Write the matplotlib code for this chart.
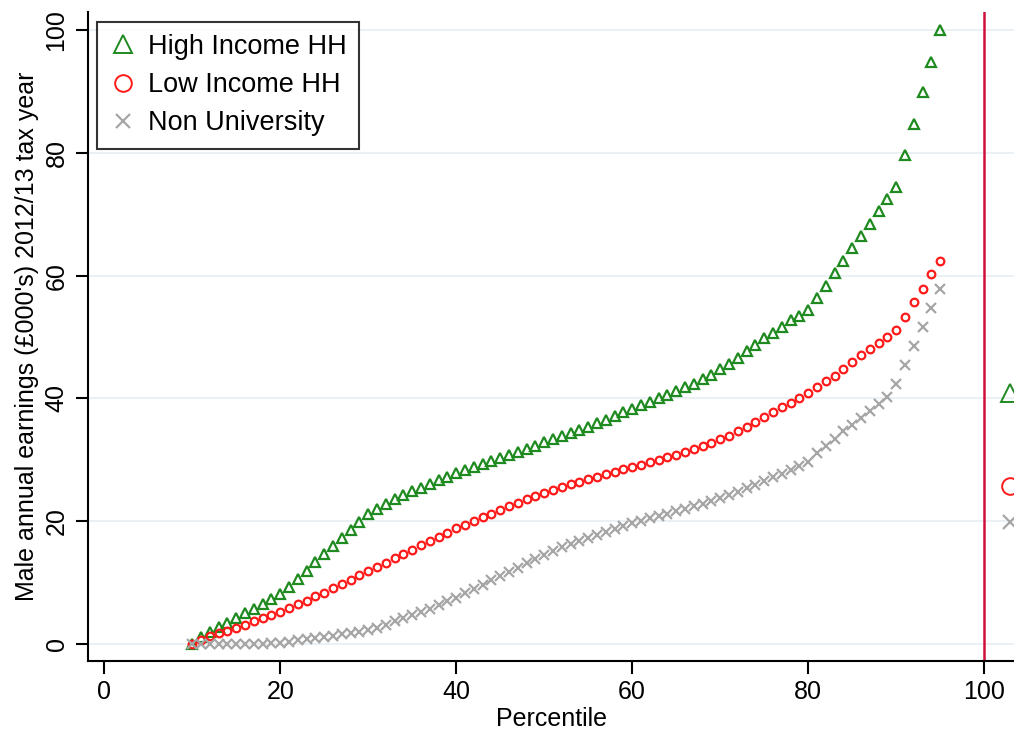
"""
Male annual earnings by percentile, by group
"""
import matplotlib
matplotlib.use("Agg")
import matplotlib.pyplot as plt
from matplotlib.lines import Line2D

plt.rcParams['font.family'] = ['Liberation Sans', 'DejaVu Sans']

# Percentiles 10..95
pct = list(range(10, 96))

high_inc = [0.0, 1.1, 1.9, 2.7, 3.3, 4.2, 4.9, 5.6, 6.4, 7.3,
            8.1, 9.3, 10.6, 11.9, 13.3, 14.6, 15.9, 17.2, 18.5, 19.9,
            21.1, 22.0, 22.8, 23.5, 24.2, 24.8, 25.4, 26.0, 26.6, 27.2,
            27.8, 28.3, 28.8, 29.3, 29.8, 30.3, 30.8, 31.3, 31.8, 32.3,
            32.8, 33.3, 33.8, 34.3, 34.8, 35.3, 35.9, 36.5, 37.1, 37.7,
            38.3, 38.9, 39.4, 40.0, 40.6, 41.2, 41.8, 42.4, 43.1, 43.8,
            44.7, 45.6, 46.6, 47.7, 48.7, 49.8, 50.6, 51.6, 52.7, 53.4,
            54.4, 56.4, 58.3, 60.4, 62.4, 64.5, 66.5, 68.5, 70.6, 72.5,
            74.5, 79.7, 84.7, 89.9, 94.9, 100.0]

low_inc = [0.0, 0.6, 1.2, 1.7, 2.1, 2.6, 3.1, 3.6, 4.1, 4.7,
           5.2, 5.8, 6.4, 7.0, 7.7, 8.3, 9.0, 9.7, 10.4, 11.1,
           11.8, 12.5, 13.2, 13.9, 14.6, 15.3, 16.0, 16.7, 17.4, 18.1,
           18.8, 19.4, 20.0, 20.6, 21.2, 21.8, 22.4, 23.0, 23.6, 24.1,
           24.6, 25.1, 25.6, 26.0, 26.4, 26.8, 27.2, 27.6, 28.0, 28.4,
           28.8, 29.2, 29.6, 30.0, 30.4, 30.8, 31.2, 31.7, 32.2, 32.7,
           33.3, 33.9, 34.6, 35.4, 36.2, 37.0, 37.7, 38.5, 39.3, 40.0,
           40.8, 41.8, 42.8, 43.7, 44.7, 45.9, 47.0, 48.0, 49.0, 50.0,
           51.1, 53.3, 55.7, 57.9, 60.2, 62.4]

non_uni = [0.0, 0.0, 0.0, 0.0, 0.0, 0.0, 0.0, 0.0, 0.0, 0.05,
           0.1, 0.3, 0.5, 0.7, 0.9, 1.1, 1.3, 1.5, 1.7, 1.9,
           2.2, 2.6, 3.1, 3.6, 4.1, 4.6, 5.1, 5.7, 6.3, 6.9,
           7.5, 8.2, 8.9, 9.6, 10.3, 11.0, 11.7, 12.4, 13.1, 13.8,
           14.5, 15.1, 15.7, 16.2, 16.7, 17.2, 17.7, 18.2, 18.7, 19.2,
           19.6, 20.0, 20.4, 20.8, 21.2, 21.6, 22.0, 22.4, 22.8, 23.2,
           23.7, 24.2, 24.7, 25.3, 25.9, 26.5, 27.1, 27.7, 28.3, 28.9,
           29.6, 31.0, 32.2, 33.4, 34.6, 35.7, 36.8, 37.9, 39.0, 40.2,
           42.4, 45.5, 48.6, 51.7, 54.8, 57.8]

# group means, shown beside the reference line
mean_x = 103
mean_high = 40.9
mean_low = 25.7
mean_nonuni = 19.8

labels = ['High Income HH', 'Low Income HH', 'Non University']

green = '#1f8a1f'
red = '#ff1a1a'
grey = '#a6a6a6'

fig = plt.figure(figsize=(10.14, 7.30), dpi=100)
ax = fig.add_axes([0.0868, 0.0945, 0.9132, 0.889])

for v in [0, 20, 40, 60, 80, 100]:
    ax.axhline(v, color='#e8eff2', lw=1.3, zorder=0)

ax.plot(pct, high_inc, ls='none', marker='^', ms=6.5, mfc='none',
        mec=green, mew=1.6)
ax.plot(pct, low_inc, ls='none', marker='o', ms=5.5, mfc='none',
        mec=red, mew=1.6)
ax.plot(pct, non_uni, ls='none', marker='x', ms=6.5, mec=grey, mew=1.6)

ax.plot([mean_x], [mean_high], ls='none', marker='^', ms=13, mfc='none',
        mec=green, mew=1.4)
ax.plot([mean_x], [mean_low], ls='none', marker='o', ms=12, mfc='none',
        mec=red, mew=1.4)
ax.plot([mean_x], [mean_nonuni], ls='none', marker='x', ms=10, mec=grey,
        mew=1.6)

ax.axvline(100, color='#d0103a', lw=1.8)

ax.set_xlim(-1.85, 103.4)
ax.set_ylim(-2.85, 103.0)
ax.set_xticks([0, 20, 40, 60, 80, 100])
ax.set_yticks([0, 20, 40, 60, 80, 100])
ax.tick_params(labelsize=18, length=9, width=1.5, color='black', pad=5)
for lab in ax.get_yticklabels():
    lab.set_rotation(90)
    lab.set_va('center')

ax.spines['top'].set_visible(False)
ax.spines['right'].set_visible(False)
ax.spines['left'].set_linewidth(1.5)
ax.spines['bottom'].set_linewidth(1.5)

ax.set_xlabel('Percentile', fontsize=18, labelpad=2)
ax.set_ylabel("Male annual earnings (£000's) 2012/13 tax year", fontsize=18,
              labelpad=4)

# legend with bigger symbols
handles = [
    Line2D([], [], ls='none', marker='^', ms=13, mfc='none', mec=green, mew=1.4),
    Line2D([], [], ls='none', marker='o', ms=12, mfc='none', mec=red, mew=1.4),
    Line2D([], [], ls='none', marker='x', ms=10, mec=grey, mew=1.6),
]
leg = ax.legend(handles, labels, loc='upper left',
                bbox_to_anchor=(0.0097, 0.985), fontsize=19.5,
                frameon=True, fancybox=False, borderaxespad=0,
                handlelength=1.0, handletextpad=0.45, labelspacing=0.45,
                borderpad=0.45)
leg.get_frame().set_edgecolor('black')
leg.get_frame().set_linewidth(1.5)

fig.savefig('out.png', dpi=100)
